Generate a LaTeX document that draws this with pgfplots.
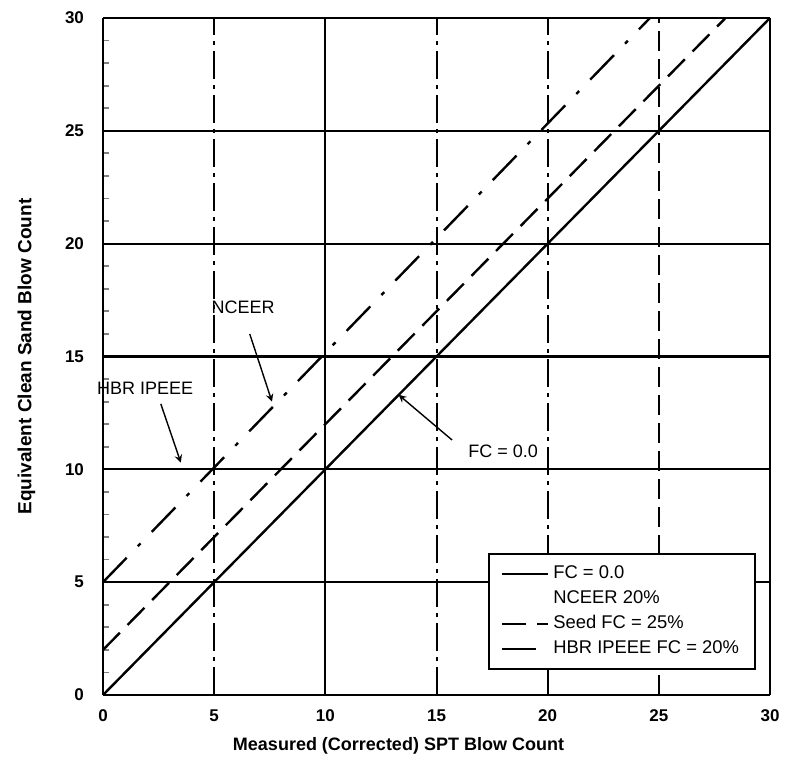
\documentclass[border=0pt]{standalone}
\usepackage{fontspec}
\setmainfont{Liberation Sans}
\usepackage{pgfplots}
\pgfplotsset{compat=1.18}
\begin{document}
\begin{tikzpicture}
\begin{axis}[
  scale only axis, width=333.5pt, height=338.5pt,
  xmin=0, xmax=30, ymin=0, ymax=30,
  axis x line*=bottom, axis y line*=left,
  axis line style={line width=1.1pt, -},
  xtick={0,5,...,30}, ytick={0,5,...,30},
  minor y tick num=4,
  tick align=inside,
  major tick length=0pt,
  minor tick length=3pt,
  minor tick style={line width=0.9pt},
  /pgf/number format/assume math mode=true,
  tick label style={font=\bfseries\fontsize{8.5}{10}\selectfont},
  yticklabel style={xshift=-6pt},
  xticklabel style={yshift=-4pt},
  ymajorgrids, major grid style={black, line width=1.1pt},
  xlabel={Measured (Corrected) SPT Blow Count},
  ylabel={Equivalent Clean Sand Blow Count},
  label style={font=\bfseries\fontsize{9.5}{11}\selectfont},
  ylabel style={yshift=8pt},
  xlabel style={yshift=-1pt, xshift=-19pt, font=\bfseries\fontsize{9}{11}\selectfont},
  legend image code/.code={\draw[#1] (0pt,0pt) -- (23pt,0pt);},
  legend cell align=left,
  legend style={at={(0.577,0.21)}, anchor=north west, draw=black, line width=1.1pt,
    fill=white, font=\fontsize{9.2}{10}\selectfont, inner xsep=6pt, inner ysep=4pt,
    row sep=0.5pt, /tikz/every even column/.append style={column sep=4pt}},
  clip=false,
]
% vertical grid lines
\draw[line width=1pt, dash pattern=on 14pt off 3pt on 2pt off 3pt] (axis cs:5,0) -- (axis cs:5,30);
\draw[line width=1pt] (axis cs:10,0) -- (axis cs:10,30);
\draw[line width=1pt, dash pattern=on 14pt off 3pt on 2pt off 3pt] (axis cs:15,0) -- (axis cs:15,30);
\draw[line width=1pt, dash pattern=on 14pt off 3pt on 2pt off 3pt] (axis cs:20,0) -- (axis cs:20,30);
\draw[line width=1pt, dash pattern=on 10pt off 4pt] (axis cs:25,0) -- (axis cs:25,30);
\draw[line width=1.1pt] (axis cs:30,0) -- (axis cs:30,30);

\addplot[black, line width=1.2pt] coordinates {(0,0) (30,30)};
\addlegendentry{FC = 0.0}
\addlegendimage{draw opacity=0}
\addlegendentry{NCEER 20\%}
\addplot[black, line width=1.2pt, dash pattern=on 12pt off 5.5pt] coordinates {(0,2) (28,30)};
\addlegendentry{Seed FC = 25\%}
\addplot[black, line width=1.2pt, dash pattern=on 17pt off 8pt on 2pt off 8pt] coordinates {(0,5) (24.6,30)};
\addlegendentry{HBR IPEEE FC = 20\%}

% annotations
\node[font=\fontsize{9}{10}\selectfont] at (axis cs:6.3,17.2) {NCEER};
\draw[line width=0.7pt, -stealth] (axis cs:6.6,16.0) -- (axis cs:7.6,13.0);
\node[font=\fontsize{9}{10}\selectfont] at (axis cs:1.9,13.6) {HBR IPEEE};
\draw[line width=0.7pt, -stealth] (axis cs:2.6,12.9) -- (axis cs:3.5,10.3);
\node[font=\fontsize{9}{10}\selectfont] at (axis cs:18.0,10.8) {FC = 0.0};
\draw[line width=0.7pt, -stealth] (axis cs:15.7,11.3) -- (axis cs:13.3,13.3);
\end{axis}
\path ([shift={(-51.5pt,-37.5pt)}]current axis.south west) rectangle ([shift={(13pt,9pt)}]current axis.north east);
\end{tikzpicture}
\end{document}
